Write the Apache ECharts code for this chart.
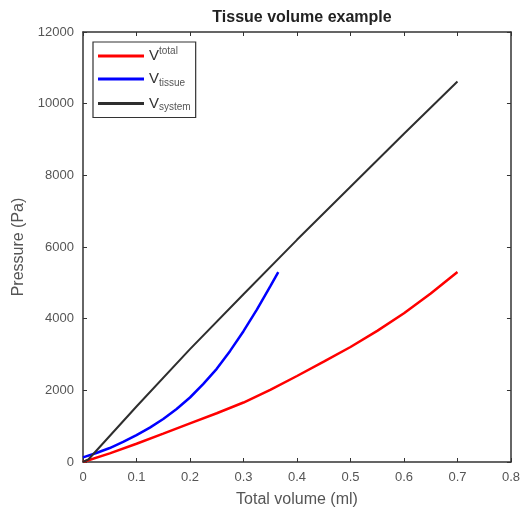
<!DOCTYPE html>
<html>
<head>
<meta charset="utf-8">
<script src="https://cdn.jsdelivr.net/npm/echarts@6/dist/echarts.min.js"></script>
<style>
  html, body { margin: 0; padding: 0; background: #fff; }
  #chart { width: 523px; height: 515px; }
</style>
</head>
<body>
<div id="chart"></div>
<script>
  // values (volume in ml, pressure in Pa)
  var totalCurve = [[0, 0], [0.05, 240], [0.1, 510], [0.15, 790], [0.2, 1080], [0.25, 1360], [0.3, 1660],
    [0.35, 2010], [0.4, 2400], [0.45, 2800], [0.5, 3210], [0.55, 3660], [0.6, 4150], [0.65, 4700], [0.7, 5300]];
  var tissueCurve = [[0, 130], [0.025, 250], [0.05, 390], [0.075, 560], [0.1, 750], [0.125, 960],
    [0.15, 1200], [0.175, 1480], [0.2, 1800], [0.225, 2180], [0.25, 2600], [0.275, 3100],
    [0.3, 3650], [0.325, 4250], [0.35, 4900], [0.365, 5300]];
  var systemCurve = [[0, 0], [0.01, 70], [0.1, 1550], [0.2, 3150], [0.3, 4680], [0.4, 6200],
    [0.5, 7680], [0.6, 9160], [0.7, 10620]];
  var seriesNames = ["total", "tissue", "system"];
  var chartTitle = "Tissue volume example";
  var xName = "Total volume (ml)";
  var yName = "Pressure (Pa)";

  var axisColor = "#333";
  var labelColor = "#555";
  var font = "Liberation Sans";

  var chart = echarts.init(document.getElementById("chart"));

  function frameAxis(pos, isX) {
    return {
      type: "value",
      position: pos,
      min: 0,
      max: isX ? 0.8 : 12000,
      interval: isX ? 0.1 : 2000,
      axisLine: { show: true, onZero: false, lineStyle: { color: axisColor, width: 1.5 } },
      axisTick: { show: true, inside: true, length: 4, lineStyle: { color: axisColor } },
      axisLabel: { show: false },
      splitLine: { show: false }
    };
  }

  var xMain = frameAxis("bottom", true);
  xMain.axisLabel = { show: true, color: labelColor, fontSize: 13, margin: 9, fontFamily: font };
  xMain.name = xName;
  xMain.nameLocation = "middle";
  xMain.nameGap = 30;
  xMain.nameTextStyle = { color: labelColor, fontSize: 16, fontFamily: font };

  var yMain = frameAxis("left", false);
  yMain.axisLabel = { show: true, color: labelColor, fontSize: 13, margin: 9, fontFamily: font,
    formatter: function (v) { return String(v); } };
  yMain.name = yName;
  yMain.nameLocation = "middle";
  yMain.nameGap = 53;
  yMain.nameTextStyle = { color: labelColor, fontSize: 16, fontFamily: font };

  var richText = {
    v: { fontSize: 15, color: "#333", fontFamily: font },
    sup: { fontSize: 10, color: "#555", padding: [0, 0, 10, 0], fontFamily: font },
    sub: { fontSize: 10, color: "#555", padding: [8, 0, 0, 0], fontFamily: font }
  };

  var seriesStyle = [
    { color: "#ff0000", width: 2.5 },
    { color: "#0000ff", width: 2.5 },
    { color: "#2e2e2e", width: 2 }
  ];
  var curves = [totalCurve, tissueCurve, systemCurve];

  chart.setOption({
    animation: false,
    backgroundColor: "#fff",
    title: {
      text: chartTitle,
      left: 297,
      textAlign: "center",
      top: 5,
      textStyle: { fontSize: 16, fontWeight: "bold", color: "#222", fontFamily: font }
    },
    grid: { left: 83, right: 11, top: 32, bottom: 53 },
    legend: {
      orient: "vertical",
      left: 93,
      top: 42,
      padding: [4, 5, 5, 5],
      itemGap: 8,
      itemWidth: 46,
      itemHeight: 3,
      icon: "path://M0,0H46V3H0Z",
      borderColor: axisColor,
      borderWidth: 1.2,
      data: seriesNames,
      formatter: function (name) {
        return name === "total" ? "{v|V}{sup|" + name + "}" : "{v|V}{sub|" + name + "}";
      },
      textStyle: { rich: richText }
    },
    xAxis: [xMain, frameAxis("top", true)],
    yAxis: [yMain, frameAxis("right", false)],
    series: seriesNames.map(function (name, i) {
      return {
        name: name,
        type: "line",
        data: curves[i],
        symbol: "none",
        smooth: false,
        lineStyle: seriesStyle[i],
        itemStyle: { color: seriesStyle[i].color }
      };
    })
  });
</script>
</body>
</html>
